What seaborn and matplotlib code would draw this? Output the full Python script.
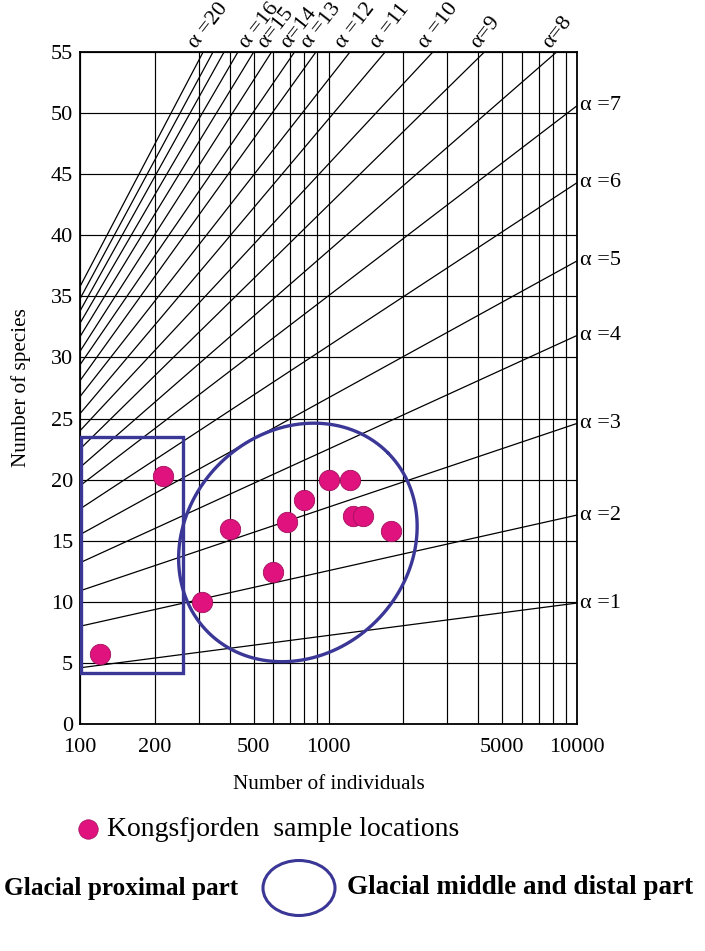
import numpy as np
import pandas as pd
import matplotlib
matplotlib.use("Agg")
import matplotlib.pyplot as plt
import seaborn as sns
from matplotlib.patches import Rectangle, Ellipse
from matplotlib.lines import Line2D

# ---------------- data ----------------
sample_N = [120, 215, 310, 400, 600, 680, 800, 1000, 1220, 1260, 1380, 1790]
sample_S = [5.7, 20.3, 10.0, 16.0, 12.4, 16.5, 18.3, 20.0, 20.0, 17.05, 17.05, 15.8]

alphas = list(range(1, 21))
# isoline start (at N = 100) and end points as seen in the picture
iso_start_S = [4.6, 8.0, 10.9, 13.2, 15.5, 17.6, 19.5, 21.0, 22.5, 24.0,
               25.4, 26.8, 28.1, 29.4, 30.5, 31.7, 32.8, 33.8, 34.8, 35.8]
iso_end_N = [10000, 10000, 10000, 10000, 10000, 10000, 10000,
             8280, 4240, 2630, 1690, 1220, 890, 730, 590, 500, 432, 380, 343, 313]
iso_end_S = [9.9, 17.1, 24.6, 31.8, 37.9, 44.3, 50.6] + [55] * 13

right_labels = {1: "α =1", 2: "α =2", 3: "α =3", 4: "α =4", 5: "α =5", 6: "α =6", 7: "α =7"}
top_labels = {20: "α =20", 16: "α =16", 15: "α=15", 14: "α=14", 13: "α =13",
              12: "α =12", 11: "α =11", 10: "α =10", 9: "α=9", 8: "α=8"}

x_grid = [100, 200, 300, 400, 500, 600, 700, 800, 900, 1000,
          2000, 3000, 4000, 5000, 6000, 7000, 8000, 9000, 10000]
x_labeled = [100, 200, 500, 1000, 5000, 10000]
y_ticks = [0, 5, 10, 15, 20, 25, 30, 35, 40, 45, 50, 55]

# group outlines
box_N = (101, 259)
box_S = (4.2, 23.5)
ell_center = (753, 14.86)

# ---------------- styling ----------------
sns.set_theme(style="white")
plt.rcParams["font.family"] = ["Liberation Serif", "DejaVu Serif"]
for k in ["text.color", "axes.labelcolor", "xtick.color", "ytick.color"]:
    plt.rcParams[k] = "black"

BLUE = "#3B3796"
MAG = "#E0127E"

fig = plt.figure(figsize=(7.05, 9.51), dpi=100)
W, H = 705, 951
ax = fig.add_axes([80 / W, 1 - 724 / H, 497 / W, 672 / H])
ax.set_xscale("log")
ax.set_xlim(100, 10000)
ax.set_ylim(0, 55)

# grid
ax.set_xticks(x_grid)
ax.set_xticklabels([str(v) if v in x_labeled else "" for v in x_grid])
ax.xaxis.set_minor_locator(matplotlib.ticker.NullLocator())
ax.set_yticks(y_ticks)
ax.set_yticklabels([str(v) for v in y_ticks])
ax.grid(True, which="major", color="black", lw=0.85)
ax.tick_params(axis="both", length=0, labelsize=16, colors="black")
ax.tick_params(axis="x", pad=10)
ax.tick_params(axis="y", pad=5)
for s in ax.spines.values():
    s.set_color("black")
    s.set_linewidth(1.3)

# isolines
rows = []
for a, s0, n1, s1 in zip(alphas, iso_start_S, iso_end_N, iso_end_S):
    rows.append({"alpha": a, "N": 100, "S": s0})
    rows.append({"alpha": a, "N": n1, "S": s1})
iso_df = pd.DataFrame(rows)
sns.lineplot(data=iso_df, x="N", y="S", units="alpha", estimator=None,
             color="black", lw=0.9, ax=ax, legend=False, sort=False)

for a, n1, s1 in zip(alphas, iso_end_N, iso_end_S):
    if a in right_labels:
        ax.annotate(right_labels[a], (n1, s1), xytext=(2, 0), textcoords="offset points",
                    ha="left", va="center", fontsize=16, clip_on=False)
    if a in top_labels:
        ax.annotate(top_labels[a], (n1, s1), xytext=(-2, 0), textcoords="offset points",
                    ha="left", va="bottom", rotation=52, rotation_mode="anchor",
                    fontsize=16, clip_on=False)

# group outlines
ax.add_patch(Rectangle((box_N[0], box_S[0]), box_N[1] - box_N[0], box_S[1] - box_S[0],
                       fill=False, ec=BLUE, lw=2.4, zorder=4))
t = np.linspace(0, 2 * np.pi, 300)
a_px, b_px, th = 127, 111, np.deg2rad(45)
cx, cy = ax.transData.transform(ell_center)
dx = a_px * np.cos(t) * np.cos(th) - b_px * np.sin(t) * np.sin(th)
dy = a_px * np.cos(t) * np.sin(th) + b_px * np.sin(t) * np.cos(th)
pts = ax.transData.inverted().transform(np.column_stack([cx + dx, cy + dy]))
ax.plot(pts[:, 0], pts[:, 1], color=BLUE, lw=2.4, zorder=4)

# samples
pts_df = pd.DataFrame({"N": sample_N, "S": sample_S})
sns.scatterplot(data=pts_df, x="N", y="S", s=215, color=MAG, edgecolor="#A0105E",
                linewidth=0.6, zorder=5, ax=ax, legend=False)

ax.set_xlabel("Number of individuals", fontsize=15.2, labelpad=13, color="black")
ax.set_ylabel("Number of species", fontsize=15.2, labelpad=14, color="black")

# legend-like annotations at the bottom
fig.add_artist(Line2D([88 / W], [1 - 829 / H], marker="o", ms=14, color=MAG,
                      mec="#A0105E", mew=0.5, transform=fig.transFigure))
fig.text(107 / W, 1 - 829 / H, "Kongsfjorden  sample locations", fontsize=20,
         ha="left", va="center")
fig.text(238 / W, 1 - 888 / H, "Glacial proximal part", fontsize=18.2, fontweight="bold",
         ha="right", va="center")
fig.add_artist(Ellipse((299 / W, 1 - 888 / H), 72 / W, 55 / H, fill=False, ec=BLUE, lw=2.2,
                       transform=fig.transFigure))
fig.text(347 / W, 1 - 888 / H, "Glacial middle and distal part", fontsize=19.5,
         fontweight="bold", ha="left", va="center")

fig.savefig("out.png", dpi=100)
